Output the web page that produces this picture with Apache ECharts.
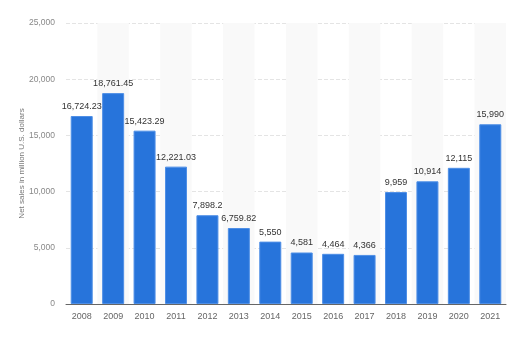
<!DOCTYPE html>
<html>
<head>
<meta charset="utf-8">
<script src="https://cdn.jsdelivr.net/npm/echarts@6/dist/echarts.min.js"></script>
<style>html,body{margin:0;padding:0;background:#fff}#c{width:512px;height:337px}</style>
</head>
<body>
<div id="c"></div>
<script>
const years = ['2008','2009','2010','2011','2012','2013','2014','2015','2016','2017','2018','2019','2020','2021'];
const sales = [16724.23, 18761.45, 15423.29, 12221.03, 7898.2, 6759.82, 5550, 4581, 4464, 4366, 9959, 10914, 12115, 15990];
const labels = ['16,724.23','18,761.45','15,423.29','12,221.03','7,898.2','6,759.82','5,550','4,581','4,464','4,366','9,959','10,914','12,115','15,990'];
const yTicks = [0, 5000, 10000, 15000, 20000, 25000];

const chart = echarts.init(document.getElementById('c'), null, {renderer: 'canvas'});
chart.setOption({
  animation: false,
  grid: {left: 66, right: 6, top: 23, bottom: 33, containLabel: false},
  xAxis: {
    type: 'category',
    data: years,
    boundaryGap: true,
    axisLine: {lineStyle: {color: '#666', width: 1}},
    axisTick: {show: false},
    axisLabel: {interval: 0, color: '#666', fontSize: 9, fontFamily: 'Liberation Sans', margin: 8},
    splitArea: {show: true, interval: 0, areaStyle: {color: ['rgba(255,255,255,0)', '#f9f9f9']}}
  },
  yAxis: {
    type: 'value',
    min: yTicks[0],
    max: yTicks[yTicks.length - 1],
    interval: 5000,
    name: 'Net sales in million U.S. dollars',
    nameLocation: 'middle',
    nameGap: 40,
    nameMoveOverlap: false,
    nameTextStyle: {color: '#777', fontSize: 8, fontFamily: 'Liberation Sans'},
    axisLine: {show: false},
    axisTick: {show: false},
    axisLabel: {
      color: '#888', fontSize: 8.5, fontFamily: 'Liberation Sans', margin: 11,
      formatter: v => v.toLocaleString('en-US')
    },
    splitLine: {lineStyle: {color: '#e4e4e4', type: 'dashed', width: 1}}
  },
  series: [{
    type: 'bar',
    data: sales,
    barCategoryGap: '30%',
    itemStyle: {color: '#2774db', borderColor: '#4f8fe6', borderWidth: 1},
    label: {
      show: true, position: 'top', distance: 5,
      color: '#333', fontSize: 9, fontFamily: 'Liberation Sans',
      formatter: p => labels[p.dataIndex]
    }
  }]
});
</script>
</body>
</html>
